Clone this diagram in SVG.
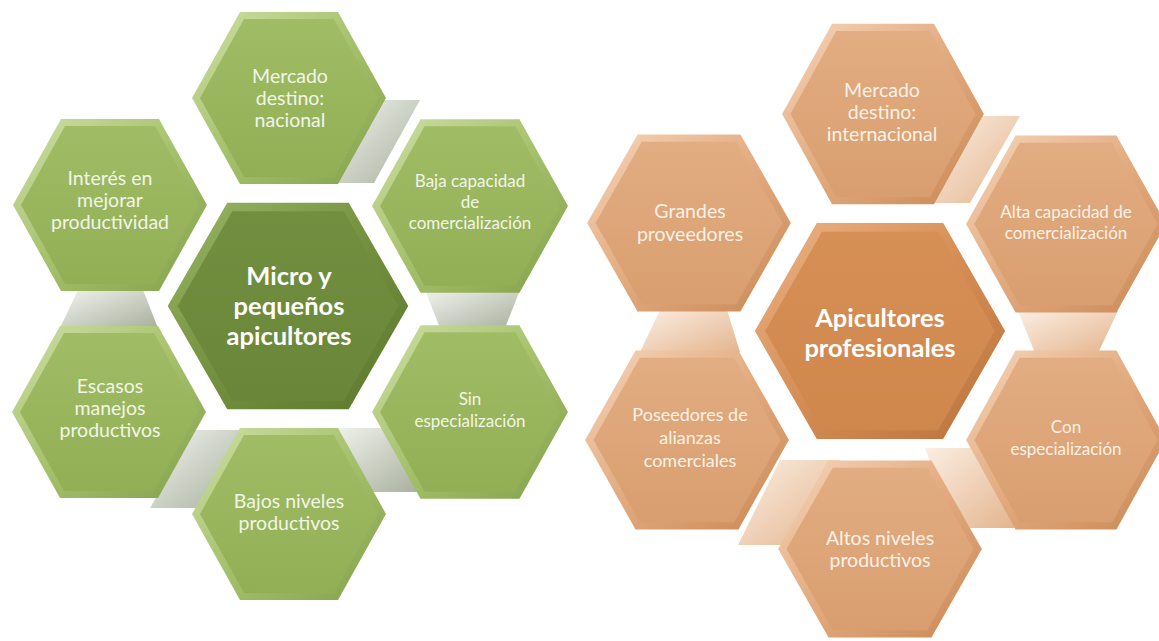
<svg xmlns="http://www.w3.org/2000/svg" xmlns:xlink="http://www.w3.org/1999/xlink" width="1159" height="641" viewBox="0 0 1159 641">
<defs>
  <polygon id="ho" points="-97,0 -49,-86 49,-86 97,0 49,86 -49,86"/>
  <polygon id="hi" points="-89,0 -45,-79 45,-79 89,0 45,79 -45,79"/>
  <linearGradient id="gGO" x1="0" y1="0" x2="1" y2="1">
    <stop offset="0" stop-color="#cfe0a6"/><stop offset="0.5" stop-color="#a6c16c"/><stop offset="1" stop-color="#82a04a"/>
  </linearGradient>
  <linearGradient id="gGI" x1="0" y1="0" x2="0" y2="1">
    <stop offset="0" stop-color="#a0bd65"/><stop offset="1" stop-color="#92af56"/>
  </linearGradient>
  <linearGradient id="gGCO" x1="0" y1="0" x2="1" y2="1">
    <stop offset="0" stop-color="#9ab767"/><stop offset="0.5" stop-color="#74913f"/><stop offset="1" stop-color="#5a772d"/>
  </linearGradient>
  <linearGradient id="gGCI" x1="0" y1="0" x2="0" y2="1">
    <stop offset="0" stop-color="#728f40"/><stop offset="1" stop-color="#6a8739"/>
  </linearGradient>
  <linearGradient id="gOO" x1="0" y1="0" x2="1" y2="1">
    <stop offset="0" stop-color="#f6d6ba"/><stop offset="0.5" stop-color="#e2aa7e"/><stop offset="1" stop-color="#c98855"/>
  </linearGradient>
  <linearGradient id="gOI" x1="0" y1="0" x2="0" y2="1">
    <stop offset="0" stop-color="#e2ad82"/><stop offset="1" stop-color="#d99e6f"/>
  </linearGradient>
  <linearGradient id="gOCO" x1="0" y1="0" x2="1" y2="1">
    <stop offset="0" stop-color="#ecb487"/><stop offset="0.5" stop-color="#d48d54"/><stop offset="1" stop-color="#b8733d"/>
  </linearGradient>
  <linearGradient id="gOCI" x1="0" y1="0" x2="0" y2="1">
    <stop offset="0" stop-color="#d68f55"/><stop offset="1" stop-color="#cf874c"/>
  </linearGradient>
  <linearGradient id="gGC" x1="0" y1="0" x2="1" y2="1">
    <stop offset="0" stop-color="#f1f3ee"/><stop offset="1" stop-color="#a8b09d"/>
  </linearGradient>
  <linearGradient id="gOC" x1="0" y1="0" x2="1" y2="1">
    <stop offset="0" stop-color="#fbeee2"/><stop offset="1" stop-color="#e4b58e"/>
  </linearGradient>
  <style>
    .go{fill:url(#gGO)} .gi{fill:url(#gGI)}
    .gco{fill:url(#gGCO)} .gci{fill:url(#gGCI)}
    .oo{fill:url(#gOO)} .oi{fill:url(#gOI)}
    .oco{fill:url(#gOCO)} .oci{fill:url(#gOCI)}
    .cg{fill:url(#gGC)} .co{fill:url(#gOC)}
    .t{font-family:Lato,"Open Sans","Liberation Sans",sans-serif;text-anchor:middle}
    .tg{fill:#f1f5e8;font-size:19.5px}
    .to{fill:#fdf1e6;font-size:19.5px}
    .s{font-size:17px}
    .tc{fill:#ffffff;font-weight:bold;font-size:25.5px}
  </style>
</defs>
<rect width="1159" height="641" fill="#ffffff"/>

<g id="connectors">
  <polygon class="cg" points="384,100 420,100 374,183 336,183"/>
  <polygon class="cg" points="425,290 520,290 505,328 440,328"/>
  <polygon class="cg" points="332,428 386,428 421,492 368,492"/>
  <polygon class="cg" points="195,430 245,430 205,508 150,508"/>
  <polygon class="cg" points="78,290 143,290 158,328 60,328"/>

  <polygon class="co" points="982,116 1020,116 970,203 932,203"/>
  <polygon class="co" points="1018,311 1118,311 1098,353 1035,353"/>
  <polygon class="co" points="925,448 985,448 1015,528 955,528"/>
  <polygon class="co" points="780,460 840,460 790,545 738,545"/>
  <polygon class="co" points="660,310 727,310 740,352 640,352"/>
</g>

<g id="node-mercado-nacional">
  <use xlink:href="#ho" class="go" transform="translate(289,98)"/>
  <use xlink:href="#hi" class="gi" transform="translate(289,98)"/>
  <text class="t tg" x="290" y="83">Mercado<tspan x="290" y="105">destino:</tspan><tspan x="290" y="127">nacional</tspan></text>
</g>
<g id="node-interes">
  <use xlink:href="#ho" class="go" transform="translate(110,205)"/>
  <use xlink:href="#hi" class="gi" transform="translate(110,205)"/>
  <text class="t tg" x="110" y="185">Interés en<tspan x="110" y="207">mejorar</tspan><tspan x="110" y="229">productividad</tspan></text>
</g>
<g id="node-baja">
  <use xlink:href="#ho" class="go" transform="translate(470,206) scale(1.01,1.01)"/>
  <use xlink:href="#hi" class="gi" transform="translate(470,206) scale(1.01,1.01)"/>
  <text class="t tg s" x="470" y="187">Baja capacidad<tspan x="470" y="208">de</tspan><tspan x="470" y="229">comercialización</tspan></text>
</g>
<g id="node-micro">
  <use xlink:href="#ho" class="gco" transform="translate(288,306) scale(1.24,1.2)"/>
  <use xlink:href="#hi" class="gci" transform="translate(288,306) scale(1.24,1.2)"/>
  <text class="t tc" x="289" y="285">Micro y<tspan x="289" y="315">pequeños</tspan><tspan x="289" y="345">apicultores</tspan></text>
</g>
<g id="node-escasos">
  <use xlink:href="#ho" class="go" transform="translate(109,412)"/>
  <use xlink:href="#hi" class="gi" transform="translate(109,412)"/>
  <text class="t tg" x="110" y="393">Escasos<tspan x="110" y="415">manejos</tspan><tspan x="110" y="437">productivos</tspan></text>
</g>
<g id="node-sin">
  <use xlink:href="#ho" class="go" transform="translate(470,412) scale(1.01,1.01)"/>
  <use xlink:href="#hi" class="gi" transform="translate(470,412) scale(1.01,1.01)"/>
  <text class="t tg s" x="470" y="405">Sin<tspan x="470" y="427">especialización</tspan></text>
</g>
<g id="node-bajos">
  <use xlink:href="#ho" class="go" transform="translate(289,514)"/>
  <use xlink:href="#hi" class="gi" transform="translate(289,514)"/>
  <text class="t tg" x="289" y="508">Bajos niveles<tspan x="289" y="530">productivos</tspan></text>
</g>

<g id="node-mercado-internacional">
  <use xlink:href="#ho" class="oo" transform="translate(883,114) scale(1.04,1.05)"/>
  <use xlink:href="#hi" class="oi" transform="translate(883,114) scale(1.04,1.05)"/>
  <text class="t to" x="882" y="97">Mercado<tspan x="882" y="119">destino:</tspan><tspan x="882" y="141">internacional</tspan></text>
</g>
<g id="node-grandes">
  <use xlink:href="#ho" class="oo" transform="translate(689,223) scale(1.05,1.03)"/>
  <use xlink:href="#hi" class="oi" transform="translate(689,223) scale(1.05,1.03)"/>
  <text class="t to" x="690" y="218">Grandes<tspan x="690" y="241">proveedores</tspan></text>
</g>
<g id="node-alta">
  <use xlink:href="#ho" class="oo" transform="translate(1066,224) scale(1.03,1.03)"/>
  <use xlink:href="#hi" class="oi" transform="translate(1066,224) scale(1.03,1.03)"/>
  <text class="t to s" x="1066" y="218">Alta capacidad de<tspan x="1066" y="239">comercialización</tspan></text>
</g>
<g id="node-apicultores">
  <use xlink:href="#ho" class="oco" transform="translate(880,331) scale(1.29,1.256)"/>
  <use xlink:href="#hi" class="oci" transform="translate(880,331) scale(1.29,1.256)"/>
  <text class="t tc" x="880" y="327">Apicultores<tspan x="880" y="357">profesionales</tspan></text>
</g>
<g id="node-poseedores">
  <use xlink:href="#ho" class="oo" transform="translate(687,440) scale(1.05,1.04)"/>
  <use xlink:href="#hi" class="oi" transform="translate(687,440) scale(1.05,1.04)"/>
  <text class="t to" x="690" y="421" style="font-size:18px">Poseedores de<tspan x="690" y="444">alianzas</tspan><tspan x="690" y="467">comerciales</tspan></text>
</g>
<g id="node-con">
  <use xlink:href="#ho" class="oo" transform="translate(1066,440) scale(1.03,1.04)"/>
  <use xlink:href="#hi" class="oi" transform="translate(1066,440) scale(1.03,1.04)"/>
  <text class="t to s" x="1066" y="433">Con<tspan x="1066" y="455">especialización</tspan></text>
</g>
<g id="node-altos">
  <use xlink:href="#ho" class="oo" transform="translate(880,549) scale(1.05,1.03)"/>
  <use xlink:href="#hi" class="oi" transform="translate(880,549) scale(1.05,1.03)"/>
  <text class="t to" x="880" y="545">Altos niveles<tspan x="880" y="567">productivos</tspan></text>
</g>
</svg>
